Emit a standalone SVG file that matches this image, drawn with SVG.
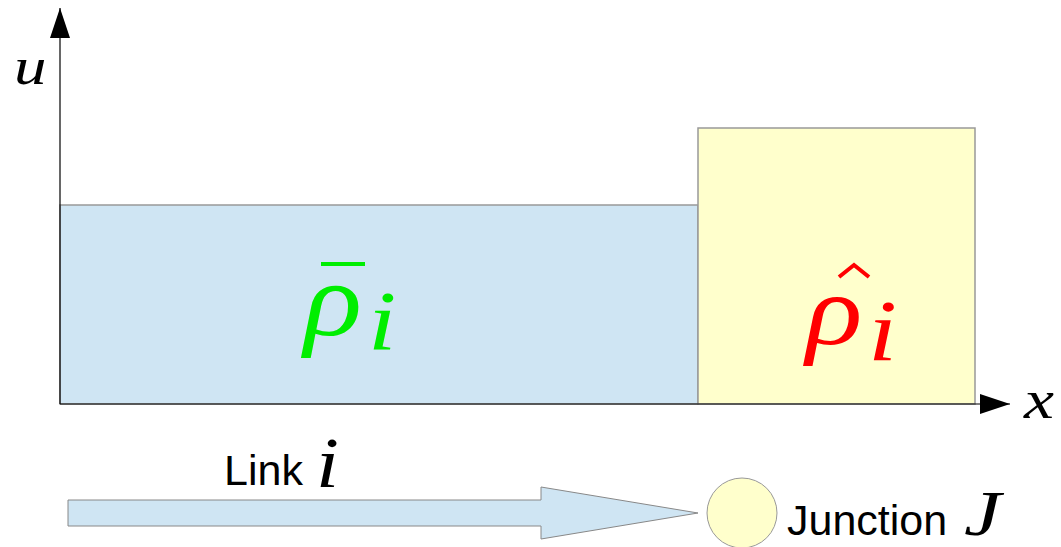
<svg xmlns="http://www.w3.org/2000/svg" width="1061" height="547" viewBox="0 0 1061 547">
<style>
.math{font-family:"Liberation Serif","DejaVu Serif",serif;font-style:italic}
.sans{font-family:"Liberation Sans",Arial,sans-serif;fill:#000}
.box{stroke:#999;stroke-width:1.5}
.axis{stroke:#000;stroke-width:1.2;fill:none}
</style>
<defs>
<marker id="ah" markerWidth="30" markerHeight="20" refX="30" refY="10" orient="auto" markerUnits="userSpaceOnUse">
<path d="M0,0 L30,10 L0,20 Z" fill="#000"/>
</marker>
</defs>
<g id="regions">
<g id="region-bar"><rect class="box" x="60" y="205" width="638" height="199" fill="#cfe5f3"/>
<text class="math" transform="translate(304,335) scale(1.15,1)" font-size="105" fill="#00ee00">ρ</text>
<rect x="321" y="262" width="44" height="4" fill="#00ee00"/>
<text class="math" transform="translate(368,350) scale(1.2,1)" font-size="85" fill="#00ee00">i</text></g>
<g id="region-hat"><rect class="box" x="698" y="128" width="277" height="276" fill="#ffffcc"/>
<text class="math" transform="translate(806,344) scale(1.15,1)" font-size="102" fill="#ff0000">ρ</text>
<path d="M839,277 L854,265 L869,277" fill="none" stroke="#ff0000" stroke-width="4"/>
<text class="math" transform="translate(868,360) scale(1.2,1)" font-size="87" fill="#ff0000">i</text></g>
</g>
<g id="connectors">
<line class="axis" x1="60" y1="404" x2="60" y2="8" marker-end="url(#ah)"/>
<line class="axis" x1="60" y1="404" x2="1010" y2="404" marker-end="url(#ah)"/>
</g>
<g id="labels">
<text class="math" transform="translate(14,84) scale(1.25,1)" font-size="52">u</text>
<text class="math" transform="translate(1024,418) scale(1.25,1)" font-size="54">x</text>
</g>
<g id="link">
<path d="M68,500 L541,500 L541,487 L698,513 L541,539 L541,526 L68,526 Z" fill="#cfe5f3" stroke="#888" stroke-width="1"/>
<text class="sans" x="224" y="485" font-size="43">Link</text>
<text class="math" transform="translate(316,487) scale(1.15,1)" font-size="72">i</text>
</g>
<g id="junction">
<circle cx="742" cy="513" r="35" fill="#ffffcc" stroke="#999" stroke-width="1"/>
<text class="sans" x="787" y="535" font-size="43">Junction</text>
<text class="math" transform="translate(964,535) scale(1.3,1)" font-size="64">J</text>
</g>
</svg>
